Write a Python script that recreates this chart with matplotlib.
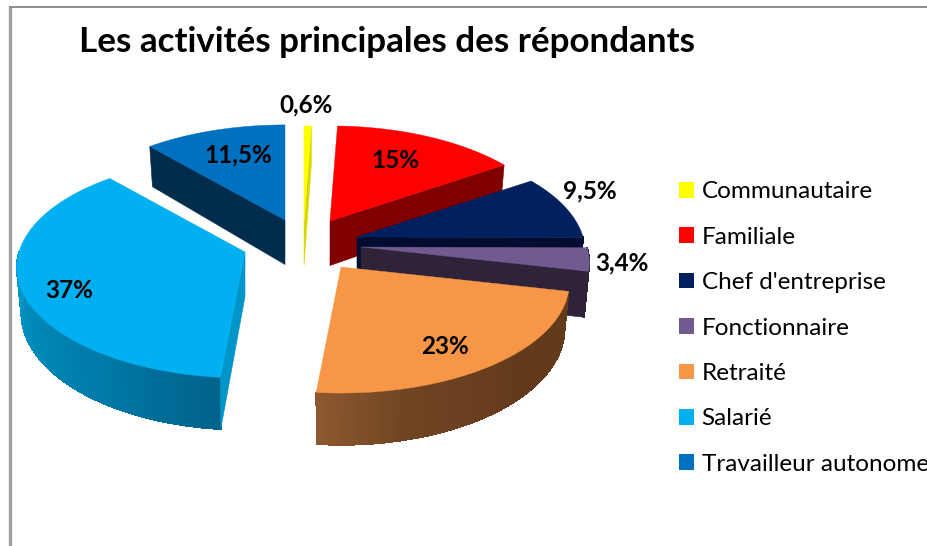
import numpy as np
import matplotlib
matplotlib.use('Agg')
import matplotlib.pyplot as plt
from matplotlib.colors import to_rgb
from matplotlib.patches import Patch

plt.rcParams['font.family'] = ['Lato', 'DejaVu Sans']

categories = ['Communautaire', 'Familiale', "Chef d'entreprise", 'Fonctionnaire',
              'Retraité', 'Salarié', 'Travailleur autonome']
values = [0.6, 15, 9.5, 3.4, 23, 37, 11.5]
value_labels = ['0,6%', '15%', '9,5%', '3,4%', '23%', '37%', '11,5%']
top_colors = ['#FFFF00', '#FF0000', '#002060', '#705A8F', '#F79646', '#00B0F0', '#0070C0']
cut_colors = ['#D8D800', '#800000', '#000C30', '#2E2338', '#643A1C', '#0095C8', '#012C4C']

# centre of each exploded slice on the page, in pixels
centres = [(304, 221), (330, 221), (357, 237), (361, 247), (341, 267), (245, 252), (285, 220)]
label_pos = [(306, 105), (395, 160), (590, 191), (622, 263), (445, 347), (69, 290), (238, 155)]

RX, RY, DEPTH, PERSP = 226, 108.4, 44.5, 0.14

# outer wall shading: angle stops and colours, only the two front slices show it
wall_stops = {
    4: ([100, 135, 165, 187], ['#623A1C', '#643A1C', '#6F4423', '#8F5A30']),
    5: ([185, 215, 245, 272], ['#00628A', '#007AA8', '#008BBA', '#0098CC']),
}


def rim(i, theta, low=False):
    # perspective view of a point of the circle, theta clockwise from the top
    t = np.radians(theta)
    s = 1 / (1 + PERSP * np.cos(t))
    cx, cy = centres[i]
    x = RX * s * np.sin(t)
    y = -RY * s * np.cos(t)
    if low:
        return cx + 0.98 * x, cy + y + DEPTH * s
    return cx + x, cy + y


def shade(stops, colors, theta):
    rgb = np.array([to_rgb(c) for c in colors])
    return [np.interp(theta, stops, rgb[:, k]) for k in range(3)]


def draw_slice(ax, i, start, end, zorder):
    cx, cy = centres[i]
    low_c = (cx, cy + DEPTH)
    # outer wall, front part of the rim
    a, b = max(start, 90), min(end, 270)
    if a < b:
        th = np.linspace(a, b, 60)
        for t0, t1 in zip(th[:-1], th[1:]):
            q = [rim(i, t0), rim(i, t1), rim(i, t1, True), rim(i, t0, True)]
            if i in wall_stops:
                col = shade(*wall_stops[i], (t0 + t1) / 2)
            else:
                col = cut_colors[i]
            ax.fill(*zip(*q), color=col, lw=0.6, antialiased=False, zorder=zorder)
    # cut faces, only those turned towards the viewer
    if np.sin(np.radians(start)) < 0:
        q = [(cx, cy), rim(i, start), rim(i, start, True), low_c]
        ax.fill(*zip(*q), color=cut_colors[i], lw=0.4, zorder=zorder)
    if np.sin(np.radians(end)) > 0:
        q = [(cx, cy), rim(i, end), rim(i, end, True), low_c]
        ax.fill(*zip(*q), color=cut_colors[i], lw=0.4, zorder=zorder)
    # top face
    th = np.linspace(start, end, 80)
    pts = [(cx, cy)] + [rim(i, t) for t in th]
    ax.fill(*zip(*pts), color=top_colors[i], lw=0.3, zorder=zorder + 0.5)


fig = plt.figure(figsize=(9.28, 5.46), dpi=100)
ax = fig.add_axes([0, 0, 1, 1])
ax.set_xlim(0, 928)
ax.set_ylim(546, 0)
ax.axis('off')

# chart border, only left and top show in the crop
ax.plot([10.5, 10.5], [7, 546], color='#A0A0A0', lw=2.4, solid_capstyle='butt')
ax.plot([9, 928], [7, 7], color='#8C8C8C', lw=1.4, solid_capstyle='butt')

edges = np.concatenate([[0], np.cumsum(values)]) / sum(values) * 360
# painted back to front
order = [6, 0, 1, 2, 3, 5, 4]
for z, i in enumerate(order):
    draw_slice(ax, i, edges[i], edges[i + 1], 2 + z)

for txt, (x, y) in zip(value_labels, label_pos):
    ax.text(x, y, txt, ha='center', va='center', fontsize=17.5, fontweight='bold',
            color='black', zorder=20)

ax.text(79, 42, 'Les activités principales des répondants', ha='left', va='center',
        fontsize=25.2, fontweight='bold', color='black', zorder=20)

handles = [Patch(facecolor=c, edgecolor='none', label=n) for c, n in zip(top_colors, categories)]
fig.legend(handles=handles, loc='upper left', bbox_to_anchor=(672 / 928, 1 - 174 / 546),
           frameon=False, fontsize=17.5, handlelength=0.62, handleheight=0.62,
           handletextpad=0.3, labelspacing=1.005, borderpad=0.3, borderaxespad=0)

fig.savefig('out.png', dpi=100)
